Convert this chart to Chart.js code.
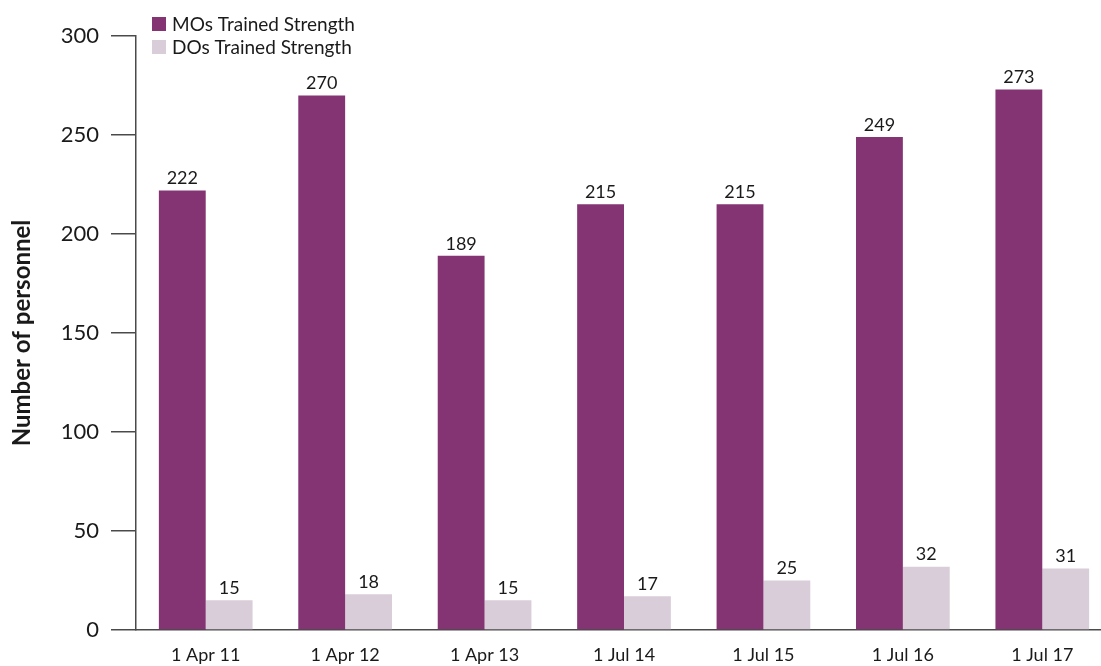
<!DOCTYPE html>
<html>
<head>
<meta charset="utf-8">
<style>
  html, body { margin: 0; padding: 0; background: #fff; overflow: hidden; }
  #wrap { position: relative; width: 1112px; height: 666px; }
</style>
<script src="https://cdn.jsdelivr.net/npm/chart.js@4.4.0/dist/chart.umd.min.js"></script>
</head>
<body>
<div id="wrap"><canvas id="strengthChart"></canvas></div>
<script>
const dates = ['1 Apr 11', '1 Apr 12', '1 Apr 13', '1 Jul 14', '1 Jul 15', '1 Jul 16', '1 Jul 17'];
const moStrength = [222, 270, 189, 215, 215, 249, 273];
const doStrength = [15, 18, 15, 17, 25, 32, 31];
const yTicks = [0, 50, 100, 150, 200, 250, 300];

const FONT = 'Lato, "Open Sans", sans-serif';
const AXIS = '#4a4a4a';
const INK = '#1a1a1a';

// value labels above every bar
const barLabels = {
    id: 'barLabels',
    afterDatasetsDraw(chart) {
        const ctx = chart.ctx;
        ctx.save();
        ctx.font = '18px ' + FONT;
        ctx.fillStyle = INK;
        ctx.textAlign = 'center';
        ctx.textBaseline = 'bottom';
        chart.data.datasets.forEach((ds, i) => {
            chart.getDatasetMeta(i).data.forEach((bar, j) => {
                ctx.fillText(ds.data[j], bar.x, bar.y - 3);
            });
        });
        ctx.restore();
    }
};

// stacked legend in the top-left of the plot
const squareLegend = {
    id: 'squareLegend',
    afterDraw(chart) {
        const ctx = chart.ctx;
        const x = chart.chartArea.left + 16;
        ctx.save();
        ctx.font = '19px ' + FONT;
        ctx.textBaseline = 'middle';
        ctx.textAlign = 'left';
        chart.data.datasets.forEach((ds, i) => {
            const y = 24 + i * 23;
            ctx.fillStyle = ds.backgroundColor;
            ctx.fillRect(x, y - 7, 14, 14);
            ctx.fillStyle = INK;
            ctx.fillText(ds.label, x + 20, y + 1);
        });
        ctx.restore();
    }
};

new Chart(document.getElementById('strengthChart'), {
    type: 'bar',
    data: {
        labels: dates,
        datasets: [
            {
                label: 'MOs Trained Strength',
                data: moStrength,
                backgroundColor: '#843473',
                categoryPercentage: 0.672,
                barPercentage: 1.0
            },
            {
                label: 'DOs Trained Strength',
                data: doStrength,
                backgroundColor: '#d8cdd8',
                categoryPercentage: 0.672,
                barPercentage: 1.0
            }
        ]
    },
    options: {
        responsive: true,
        maintainAspectRatio: false,
        animation: false,
        layout: { padding: { top: 36, right: 0, bottom: 0, left: 0 } },
        plugins: {
            legend: { display: false },
            tooltip: { enabled: false }
        },
        scales: {
            x: {
                afterFit(scale) {
                    scale.height = 36;
                },
                grid: { display: false, drawTicks: false },
                border: { display: true, color: AXIS, width: 1.5 },
                ticks: {
                    color: INK,
                    padding: 14,
                    font: { family: FONT, size: 18 }
                }
            },
            y: {
                min: 0,
                max: 300,
                afterBuildTicks(scale) {
                    scale.ticks = yTicks.map(v => ({ value: v }));
                },
                afterFit(scale) {
                    scale.width = 136;
                },
                grid: {
                    drawOnChartArea: false,
                    drawTicks: true,
                    tickLength: 25,
                    color: AXIS,
                    lineWidth: 1.5
                },
                border: { display: true, color: AXIS, width: 1.5 },
                ticks: {
                    color: INK,
                    padding: 12,
                    font: { family: FONT, size: 22 }
                },
                title: {
                    display: true,
                    text: 'Number of personnel',
                    color: INK,
                    padding: { top: 8, bottom: 4 },
                    font: { family: FONT, size: 24, weight: 'bold' }
                }
            }
        }
    },
    plugins: [barLabels, squareLegend]
});
</script>
</body>
</html>
